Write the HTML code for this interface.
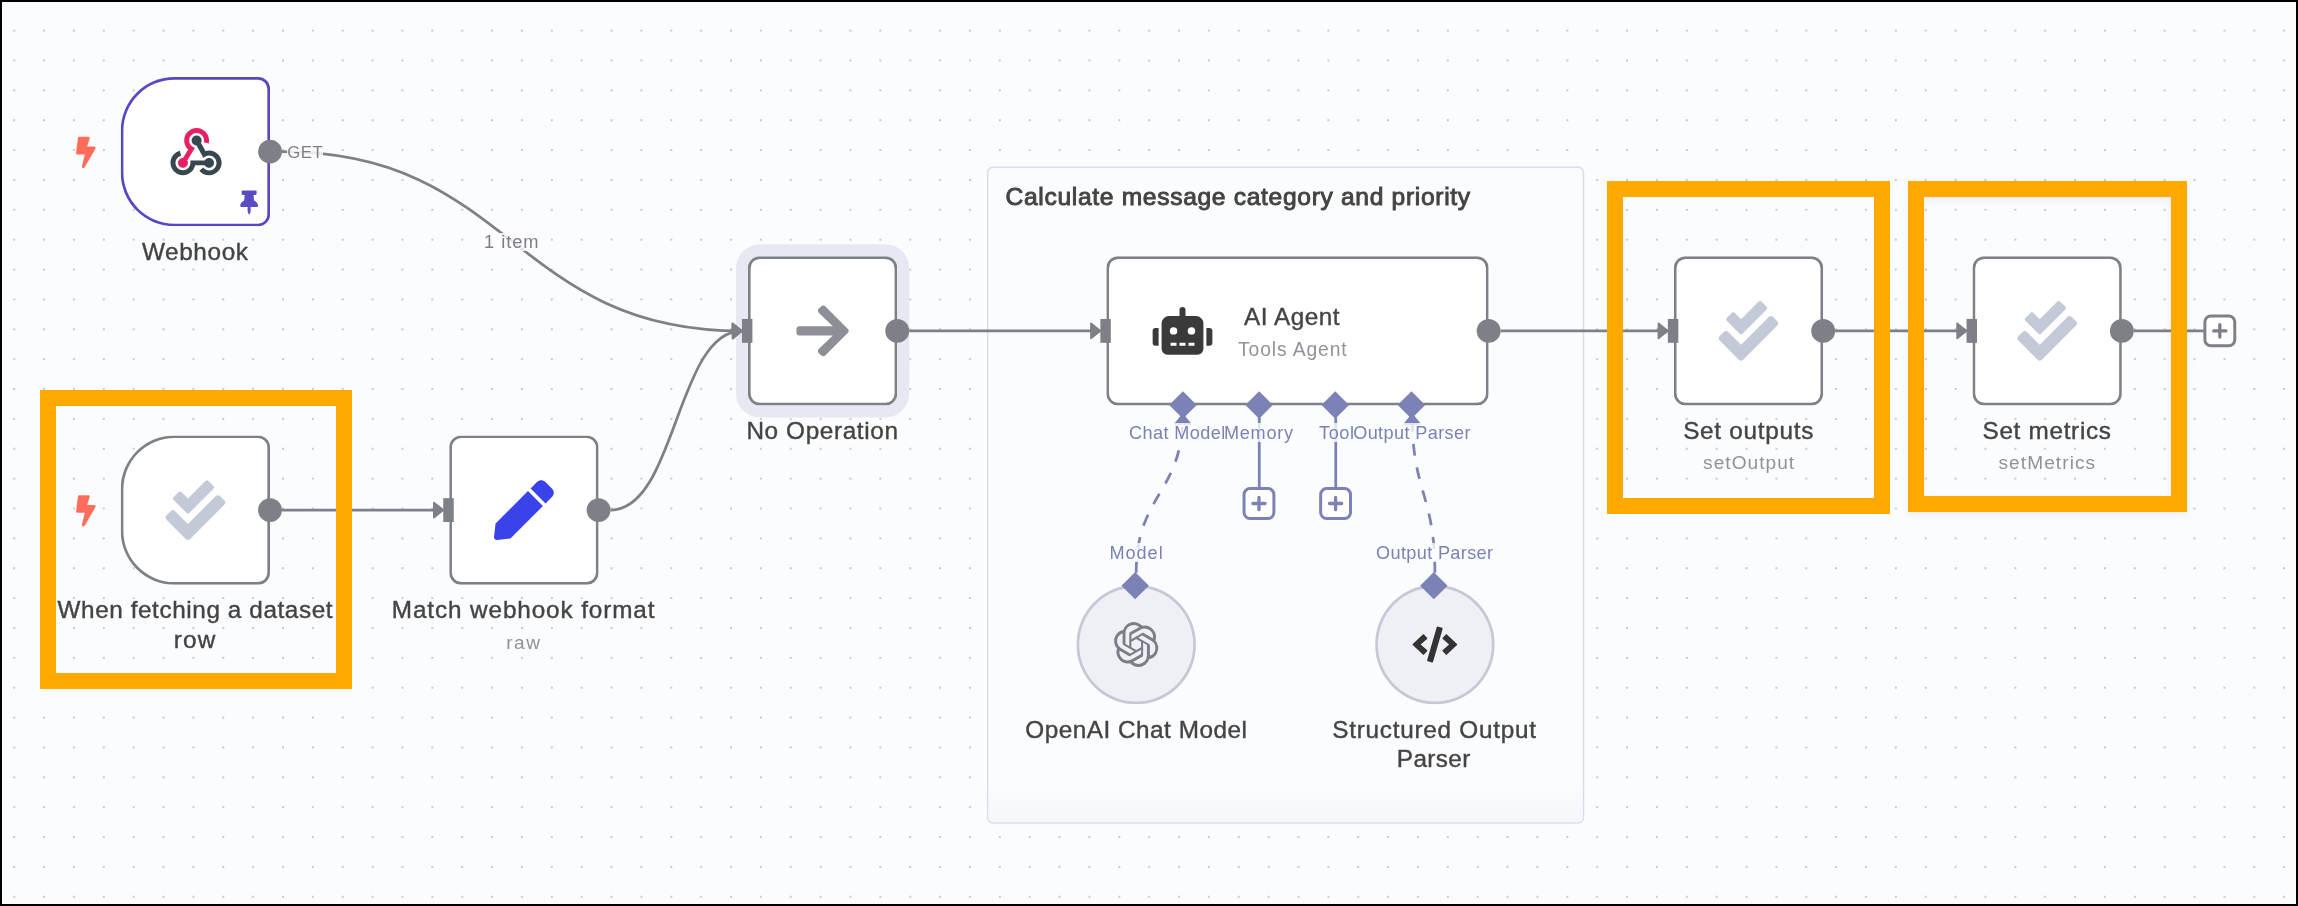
<!DOCTYPE html>
<html lang="en">
<head>
<meta charset="utf-8">
<title>Evaluation workflow canvas</title>
<style>
  html, body { margin: 0; padding: 0; }
  body {
    width: 2298px; height: 906px; overflow: hidden; position: relative;
    background: #fbfcfe;
    font-family: "Liberation Sans", sans-serif;
  }
  #frame {
    position: absolute; left: 0; top: 0; width: 2298px; height: 906px;
    box-sizing: border-box; border: 2px solid #000; z-index: 50; pointer-events: none;
  }
  #dots { position: absolute; left: 0; top: 0; width: 2298px; height: 906px; }
  /* ---------- canvas viewport (n8n coordinates, zoomed) ---------- */
  #vp {
    position: absolute; left: 0; top: 0; width: 0; height: 0;
    transform-origin: 0 0;
    transform: translate(120.7px, 77px) scale(1.4934);
  }
  #vp > * { position: absolute; box-sizing: border-box; }
  .sticky {
    left: 580px; top: 60px; width: 400px; height: 440px;
    background: #fbfcfe; border: 1px solid #d9dde9; border-radius: 4px;
    overflow: hidden;
  }
  .sticky::after {
    content: ""; position: absolute; left: 0; right: 0; bottom: 0; height: 24px;
    background: linear-gradient(rgba(246,247,251,0), rgba(245,246,250,1));
  }
  .node {
    width: 100px; height: 100px; background: #fff;
    border: 0; box-shadow: inset 0 0 0 1.8px #7d8086; border-radius: 8px;
  }
  .node.trigger { border-radius: 36px 8px 8px 36px; }
  .node.pinned { box-shadow: inset 0 0 0 1.8px #5648c2; }
  .node.selected { box-shadow: inset 0 0 0 1.8px #7d8086, 0 0 0 8px #e6e9f2; }
  .node.sub {
    width: 80px; height: 80px; border-radius: 50%;
    background: #efeff6; box-shadow: inset 0 0 0 1.8px #c4c8d7;
  }
  .hin { width: 7.4px; height: 15.8px; margin: 0.1px 0 0 0.1px; background: #7d8086; }
  .hout { width: 16px; height: 16px; border-radius: 50%; background: #7d8086; }
  .dia { width: 12.6px; height: 12.6px; margin: -0.3px 0 0 -0.65px; background: #7c81b6; transform: rotate(45deg); }
  svg { overflow: visible; }
  #edges { left: 0; top: 0; width: 1px; height: 1px; }
  .icon { width: 40px; height: 40px; }
  /* ---------- text layer (screen coordinates) ---------- */
  #txt { position: absolute; left: 0; top: 0; width: 0; height: 0; will-change: transform; }
  #txt span {
    position: absolute; white-space: nowrap; line-height: 1;
    color: #444;
  }
  .lb { font-size: 23.7px; -webkit-text-stroke: 0.4px #444; }
  .st { font-size: 18.4px; color: #8f9299 !important; }
  .hl { font-size: 17.6px; color: #7c81b6 !important; background: rgba(251,252,254,.8); padding-top: 1.5px; margin-top: -1.5px; }
  .el { font-size: 17.6px; color: #7d7d87 !important; background: rgba(251,252,254,.85); }
  .ti { -webkit-text-stroke: 0.95px #444; }
  .rq { color: #f0a0a0 !important; background: none !important; }
  /* ---------- annotations ---------- */
  .hi { position: absolute; box-sizing: border-box; border: 16px solid #ffa900; z-index: 40; }
</style>
</head>
<body>
<svg id="dots">
  <defs>
    <pattern id="dotp" x="-0.73" y="15.66" width="29.868" height="29.868" patternUnits="userSpaceOnUse">
      <ellipse cx="14.934" cy="14.934" rx="0.95" ry="0.65" fill="#98989c"/>
    </pattern>
  </defs>
  <rect x="0" y="0" width="2298" height="906" fill="url(#dotp)"/>
</svg>

<div id="vp">
  <div class="sticky"></div>

  <div class="node trigger pinned" style="left:0px;top:0px;"></div>
  <div class="node trigger" style="left:0px;top:240px;"></div>
  <div class="node " style="left:220px;top:240px;"></div>
  <div class="node selected" style="left:420px;top:120px;"></div>
  <div class="node " style="left:660px;top:120px;width:256px;"></div>
  <div class="node " style="left:1040px;top:120px;"></div>
  <div class="node " style="left:1240px;top:120px;"></div>
  <div class="node sub" style="left:640px;top:340px;"></div>
  <div class="node sub" style="left:840px;top:340px;"></div>
  <svg id="edges">
    <g fill="none" stroke="#7d8086" stroke-width="1.85">
      <path d="M108,50 C262,50 262,170 416,170"/>
      <path d="M108,290 L216,290"/>
      <path d="M328,290 C372,290 372,170 416,170"/>
      <path d="M528,170 L656,170"/>
      <path d="M924,170 L1036,170"/>
      <path d="M1148,170 L1236,170"/>
      <path d="M1348,170 L1395,170"/>
    </g>
    <g fill="#7d8086" stroke="#7d8086" stroke-width="1.25" stroke-linejoin="round">
      <path d="M409.75,165 L416,170 L409.75,175 Z"/>
      <path d="M409.75,165 L416,170 L409.75,175 Z" transform="rotate(-2 416 170)"/>
      <path d="M209.75,285 L216,290 L209.75,295 Z"/>
      <path d="M649.75,165 L656,170 L649.75,175 Z"/>
      <path d="M1029.75,165 L1036,170 L1029.75,175 Z"/>
      <path d="M1229.75,165 L1236,170 L1229.75,175 Z"/>
    </g>
    <g fill="none" stroke="#7c81b6" stroke-width="1.85">
      <path d="M680,332 C680,279 711.2,279 711.2,226" stroke-dasharray="8 8"/>
      <path d="M880,332 C880,279 864.8,279 864.8,226" stroke-dasharray="8 8"/>
      <path d="M762.4,226 L762.4,275"/>
      <path d="M813.6,226 L813.6,275"/>
    </g>
    <g fill="#7c81b6" stroke="#7c81b6" stroke-width="1.25" stroke-linejoin="round">
      <path d="M706.2,232.25 L711.2,226 L716.2,232.25 Z"/>
      <path d="M859.8,232.25 L864.8,226 L869.8,232.25 Z"/>
    </g>
    <!-- plus buttons -->
    <g transform="translate(750.2,273.6)">
      <rect x="2" y="2" width="20" height="20" rx="4" fill="#fff" stroke="#7c81b6" stroke-width="2"/>
      <path d="M7.9,12 H16.1 M12,7.9 V16.1" stroke="#7c81b6" stroke-width="2.2" stroke-linecap="round" fill="none"/>
    </g>
    <g transform="translate(801.5,273.6)">
      <rect x="2" y="2" width="20" height="20" rx="4" fill="#fff" stroke="#7c81b6" stroke-width="2"/>
      <path d="M7.9,12 H16.1 M12,7.9 V16.1" stroke="#7c81b6" stroke-width="2.2" stroke-linecap="round" fill="none"/>
    </g>
    <g transform="translate(1393.6,158)">
      <rect x="2" y="2" width="20" height="20" rx="4" fill="#fff" stroke="#7d8086" stroke-width="2"/>
      <path d="M7.9,12 H16.1 M12,7.9 V16.1" stroke="#7d8086" stroke-width="2.2" stroke-linecap="round" fill="none"/>
    </g>
  </svg>
  <div class="hout" style="left:92px;top:42px"></div>
  <div class="hout" style="left:92px;top:282px"></div>
  <div class="hin" style="left:216px;top:282px"></div>
  <div class="hout" style="left:312px;top:282px"></div>
  <div class="hin" style="left:416px;top:162px"></div>
  <div class="hout" style="left:512px;top:162px"></div>
  <div class="hin" style="left:656px;top:162px"></div>
  <div class="hout" style="left:908px;top:162px"></div>
  <div class="hin" style="left:1036px;top:162px"></div>
  <div class="hout" style="left:1132px;top:162px"></div>
  <div class="hin" style="left:1236px;top:162px"></div>
  <div class="hout" style="left:1332px;top:162px"></div>
  <div class="dia" style="left:705.2px;top:213.7px"></div>
  <div class="dia" style="left:756.4px;top:213.7px"></div>
  <div class="dia" style="left:807.6px;top:213.7px"></div>
  <div class="dia" style="left:858.8px;top:213.7px"></div>
  <div class="dia" style="left:674px;top:334px"></div>
  <div class="dia" style="left:874px;top:334px"></div>
  <svg style="left:30px;top:30px;width:40px;height:40px" viewBox="0 0 48 48"><path fill="#37474f" d="M35,37c-2.200,0-4-1.800-4-4s1.800-4,4-4s4,1.800,4,4S37.200,37,35,37z"/><path fill="#37474f" d="M35,43c-3,0-5.900-1.400-7.800-3.700l3.100-2.500c1.100,1.400,2.900,2.300,4.700,2.300c3.300,0,6-2.700,6-6s-2.700-6-6-6c-1,0-2,0.300-2.900,0.700l-1.700,1L23.300,16l3.500-1.900l5.300,9.400c1-0.300,2-0.500,3-0.500c5.500,0,10,4.500,10,10S40.500,43,35,43z"/><path fill="#37474f" d="M14,43C8.500,43,4,38.500,4,33c0-4.600,3.100-8.500,7.500-9.700l1,3.900C9.900,27.900,8,30.300,8,33c0,3.300,2.700,6,6,6s6-2.700,6-6v-2h15v4H23.800C22.900,39.600,18.800,43,14,43z"/><path fill="#e91e63" d="M14,37c-2.200,0-4-1.800-4-4s1.800-4,4-4s4,1.800,4,4S16.200,37,14,37z"/><path fill="#37474f" d="M25,19c-2.200,0-4-1.800-4-4s1.800-4,4-4s4,1.800,4,4S27.200,19,25,19z"/><path fill="#e91e63" d="M15.700,34L12.300,32l5.900-9.700c-2-1.900-3.200-4.500-3.200-7.300c0-5.500,4.500-10,10-10c5.500,0,10,4.500,10,10c0,0.900-0.100,1.700-0.300,2.500l-3.900-1c0.100-0.500,0.200-1,0.200-1.500c0-3.300-2.700-6-6-6s-6,2.700-6,6c0,2.100,1.100,4,2.900,5.100l1.700,1L15.700,34z"/></svg>
  <svg style="left:79.7px;top:76.3px;width:12px;height:16px" viewBox="0 0 384 512"><path fill="#5a4cc2" d="M298.028 214.267L285.793 96H328c13.255 0 24-10.745 24-24V24c0-13.255-10.745-24-24-24H56C42.745 0 32 10.745 32 24v48c0 13.255 10.745 24 24 24h42.207L85.972 214.267C37.465 236.82 0 277.261 0 328c0 13.255 10.745 24 24 24h136v104.007c0 1.242.289 2.467.845 3.578l24 48c2.941 5.882 11.364 5.893 14.311 0l24-48a8.008 8.008 0 0 0 .845-3.578V352h136c13.255 0 24-10.745 24-24-.001-51.183-37.983-91.420-85.973-113.733z"/></svg>
  <svg style="left:-29.7px;top:39.5px;width:13.3px;height:21px" viewBox="0 0 320 512"><path fill="#ff6d5a" d="M296 160H180.6l42.6-129.8C227.2 15 215.7 0 200 0H56C44 0 33.8 8.9 32.2 20.8l-32 240C-1.7 275.2 9.500 288 24 288h118.700L96.600 482.500c-3.600 15.200 8 29.500 23.300 29.500 8.400 0 16.400-4.400 20.800-12l176-304c9.300-15.900-2.200-36-20.700-36z"/></svg>
  <svg style="left:-29.7px;top:279.5px;width:13.3px;height:21px" viewBox="0 0 320 512"><path fill="#ff6d5a" d="M296 160H180.6l42.6-129.8C227.2 15 215.7 0 200 0H56C44 0 33.8 8.9 32.2 20.8l-32 240C-1.7 275.2 9.500 288 24 288h118.700L96.600 482.500c-3.600 15.200 8 29.500 23.300 29.500 8.400 0 16.400-4.400 20.800-12l176-304c9.300-15.900-2.200-36-20.700-36z"/></svg>
  <svg style="left:30px;top:270px;width:40px;height:40px" viewBox="0 0 512 512"><path fill="#c4c9d7" d="M505 174.8l-39.6-39.6c-9.4-9.4-24.6-9.4-33.9 0L192 374.7 80.6 263.2c-9.4-9.4-24.6-9.4-33.9 0L7 302.9c-9.4 9.4-9.4 24.6 0 34L175 505c9.4 9.4 24.6 9.4 33.9 0l296-296.2c9.4-9.5 9.4-24.7.1-34zm-324.3 106c6.2 6.3 16.4 6.3 22.6 0l208-208.2c6.2-6.3 6.2-16.4 0-22.6L366.1 4.700c-6.2-6.3-16.4-6.3-22.6 0L192 156.200l-55.400-55.500c-6.200-6.300-16.400-6.300-22.600 0L68.700 146c-6.200 6.300-6.200 16.400 0 22.600l112 112.200z"/></svg>
  <svg style="left:250px;top:270px;width:40px;height:40px" viewBox="0 0 512 512"><path fill="#3a42e9" d="M290.74 93.24l128.02 128.02-277.99 277.99-114.14 12.6C11.35 513.54-1.56 500.62.14 485.34l12.7-114.22 277.9-277.88zm207.2-19.06l-60.11-60.11c-18.750-18.750-49.160-18.750-67.910 0l-56.550 56.550 128.020 128.020 56.550-56.550c18.750-18.760 18.750-49.160 0-67.910z"/></svg>
  <svg style="left:1070px;top:150px;width:40px;height:40px" viewBox="0 0 512 512"><path fill="#c4c9d7" d="M505 174.8l-39.6-39.6c-9.4-9.4-24.6-9.4-33.9 0L192 374.7 80.6 263.2c-9.4-9.4-24.6-9.4-33.9 0L7 302.9c-9.4 9.4-9.4 24.6 0 34L175 505c9.4 9.4 24.6 9.4 33.9 0l296-296.2c9.4-9.5 9.4-24.7.1-34zm-324.3 106c6.2 6.3 16.4 6.3 22.6 0l208-208.2c6.2-6.3 6.2-16.4 0-22.6L366.1 4.700c-6.2-6.3-16.4-6.3-22.6 0L192 156.200l-55.400-55.500c-6.200-6.300-16.400-6.300-22.600 0L68.700 146c-6.200 6.300-6.200 16.400 0 22.600l112 112.200z"/></svg>
  <svg style="left:1270px;top:150px;width:40px;height:40px" viewBox="0 0 512 512"><path fill="#c4c9d7" d="M505 174.8l-39.6-39.6c-9.4-9.4-24.6-9.4-33.9 0L192 374.7 80.6 263.2c-9.4-9.4-24.6-9.4-33.9 0L7 302.9c-9.4 9.4-9.4 24.6 0 34L175 505c9.4 9.4 24.6 9.4 33.9 0l296-296.2c9.4-9.5 9.4-24.7.1-34zm-324.3 106c6.2 6.3 16.4 6.3 22.6 0l208-208.2c6.2-6.3 6.2-16.4 0-22.6L366.1 4.700c-6.2-6.3-16.4-6.3-22.6 0L192 156.200l-55.400-55.500c-6.200-6.300-16.400-6.300-22.600 0L68.700 146c-6.200 6.300-6.200 16.400 0 22.600l112 112.200z"/></svg>
  <svg style="left:691.3px;top:154px;width:40px;height:32px" viewBox="0 0 640 512"><path fill="#3a3a3a" d="M32,224H64V416H32A31.96166,31.96166,0,0,1,0,384V256A31.96166,31.96166,0,0,1,32,224Zm512-48V448a64.06328,64.06328,0,0,1-64,64H160a64.06328,64.06328,0,0,1-64-64V176a79.974,79.974,0,0,1,80-80H288V32a32,32,0,0,1,64,0V96H464A79.974,79.974,0,0,1,544,176ZM264,256a40,40,0,1,0-40,40A39.997,39.997,0,0,0,264,256Zm-8,128H192v32h64Zm96,0H288v32h64ZM456,256a40,40,0,1,0-40,40A39.997,39.997,0,0,0,456,256Zm-8,128H384v32h64ZM640,256V384a31.96166,31.96166,0,0,1-32,32H576V224h32A31.96166,31.96166,0,0,1,640,256Z"/></svg>
  <svg style="left:865px;top:368px;width:30px;height:24px" viewBox="0 0 640 512"><path fill="#333" d="M278.9 511.5l-61-17.7c-6.4-1.8-10-8.5-8.200-14.900L346.200 8.700c1.800-6.400 8.500-10 14.900-8.200l61 17.700c6.400 1.800 10 8.500 8.200 14.900L293.800 503.300c-1.900 6.400-8.500 10.100-14.900 8.200zm-114-112.200l43.500-46.400c4.600-4.900 4.300-12.700-.800-17.200L117 256l90.600-79.700c5.100-4.500 5.500-12.300.8-17.200l-43.500-46.400c-4.500-4.800-12.100-5.100-17-.5L3.800 247.200c-5.100 4.700-5.100 12.800 0 17.500l144.100 135.100c4.900 4.600 12.500 4.400 17-.5zm327.200.6l144.100-135.100c5.100-4.700 5.100-12.800 0-17.500L492.100 112.100c-4.800-4.500-12.400-4.300-17 .5L431.600 159c-4.600 4.900-4.300 12.700.8 17.200L523 256l-90.600 79.700c-5.100 4.500-5.500 12.300-.8 17.200l43.500 46.400c4.500 4.900 12.100 5.100 17 .6z"/></svg>
  <svg style="left:450px;top:150px;width:40px;height:40px" viewBox="0 0 448 512"><path fill="#8d8f96" d="M190.5 66.9l22.200-22.200c9.400-9.400 24.600-9.400 33.900 0L441 239c9.400 9.400 9.400 24.600 0 33.900L246.600 467.300c-9.400 9.400-24.600 9.400-33.900 0l-22.200-22.200c-9.500-9.500-9.300-25 .4-34.300L311.400 296H24c-13.300 0-24-10.700-24-24v-32c0-13.300 10.700-24 24-24h287.400L190.900 101.200c-9.800-9.300-10-24.800-.4-34.300z"/></svg>
  <svg style="left:665px;top:365px;width:30px;height:30px" viewBox="0 0 24 24"><path fill="#7d7d87" d="M22.282 9.821a5.985 5.985 0 0 0-.516-4.910 6.046 6.046 0 0 0-6.510-2.900A6.065 6.065 0 0 0 4.981 4.180a5.985 5.985 0 0 0-3.998 2.900 6.046 6.046 0 0 0 .743 7.097 5.980 5.980 0 0 0 .510 4.911 6.051 6.051 0 0 0 6.515 2.900A5.985 5.985 0 0 0 13.260 24a6.056 6.056 0 0 0 5.772-4.206 5.990 5.990 0 0 0 3.997-2.900 6.056 6.056 0 0 0-.747-7.073zM13.260 22.430a4.476 4.476 0 0 1-2.876-1.040l.141-.081 4.779-2.758a.795.795 0 0 0 .392-.681v-6.737l2.020 1.168a.071.071 0 0 1 .038.052v5.583a4.504 4.504 0 0 1-4.494 4.494zM3.600 18.304a4.470 4.470 0 0 1-.535-3.014l.142.085 4.783 2.759a.771.771 0 0 0 .780 0l5.843-3.369v2.332a.080.080 0 0 1-.033.062L9.740 19.950a4.500 4.500 0 0 1-6.140-1.646zM2.340 7.896a4.485 4.485 0 0 1 2.366-1.973V11.600a.766.766 0 0 0 .388.676l5.815 3.355-2.020 1.168a.076.076 0 0 1-.071 0l-4.830-2.786A4.504 4.504 0 0 1 2.340 7.872zm16.597 3.855l-5.833-3.387L15.119 7.200a.076.076 0 0 1 .071 0l4.830 2.791a4.494 4.494 0 0 1-.676 8.105v-5.678a.790.790 0 0 0-.407-.667zm2.010-3.023l-.141-.085-4.774-2.782a.776.776 0 0 0-.785 0L9.409 9.230V6.897a.066.066 0 0 1 .028-.061l4.830-2.787a4.500 4.500 0 0 1 6.680 4.660zm-12.640 4.135l-2.020-1.164a.080.080 0 0 1-.038-.057V6.075a4.500 4.500 0 0 1 7.375-3.453l-.142.080L8.704 5.460a.795.795 0 0 0-.393.681zm1.097-2.365l2.602-1.500 2.607 1.500v2.999l-2.597 1.500-2.607-1.500z"/></svg>
</div>

<div id="txt">
  <span class="lb" style="left:141.9px;top:240px;font-size:24.3px;letter-spacing:0.65px;">Webhook</span>
  <span class="lb" style="left:57.5px;top:598px;font-size:24.3px;letter-spacing:0.59px;">When fetching a dataset</span>
  <span class="lb" style="left:173.7px;top:628px;font-size:24.3px;letter-spacing:1.25px;">row</span>
  <span class="lb" style="left:391.8px;top:598px;font-size:24.3px;letter-spacing:0.89px;">Match webhook format</span>
  <span class="st" style="left:506.2px;top:633px;font-size:19.1px;letter-spacing:1.55px;">raw</span>
  <span class="lb" style="left:746.4px;top:419px;font-size:24.3px;letter-spacing:0.64px;">No Operation</span>
  <span class="ti" style="left:1005.5px;top:185px;font-size:24.6px;letter-spacing:0.68px;">Calculate message category and priority</span>
  <span class="lb" style="left:1244.0px;top:305px;font-size:24.3px;letter-spacing:0.53px;">AI Agent</span>
  <span class="st" style="left:1238.0px;top:340px;font-size:19.3px;letter-spacing:0.90px;">Tools Agent</span>
  <span class="hl" style="left:1129.0px;top:424px;font-size:18.1px;letter-spacing:0.41px;">Chat Model</span>
  <span class="hl rq" style="left:1229.0px;top:424px;font-size:18.1px;">*</span>
  <span class="hl" style="left:1224.0px;top:424px;font-size:18.1px;letter-spacing:0.74px;">Memory</span>
  <span class="hl" style="left:1319.0px;top:424px;font-size:18.1px;letter-spacing:0.60px;">Tool</span>
  <span class="hl" style="left:1353.2px;top:424px;font-size:18.1px;letter-spacing:0.39px;">Output Parser</span>
  <span class="hl" style="left:1109.4px;top:544px;font-size:18.1px;letter-spacing:1.00px;">Model</span>
  <span class="hl" style="left:1376.0px;top:544px;font-size:18.1px;letter-spacing:0.37px;">Output Parser</span>
  <span class="lb" style="left:1025.3px;top:718px;font-size:24.3px;letter-spacing:0.51px;">OpenAI Chat Model</span>
  <span class="lb" style="left:1332.2px;top:718px;font-size:24.3px;letter-spacing:0.75px;">Structured Output</span>
  <span class="lb" style="left:1396.8px;top:747px;font-size:24.3px;letter-spacing:0.40px;">Parser</span>
  <span class="lb" style="left:1683.2px;top:419px;font-size:24.3px;letter-spacing:0.72px;">Set outputs</span>
  <span class="st" style="left:1703.1px;top:453px;font-size:19.1px;letter-spacing:1.03px;">setOutput</span>
  <span class="lb" style="left:1982.5px;top:419px;font-size:24.3px;letter-spacing:0.70px;">Set metrics</span>
  <span class="st" style="left:1998.5px;top:453px;font-size:19.1px;letter-spacing:1.07px;">setMetrics</span>
  <span class="el" style="left:287.3px;top:145px;font-size:16.8px;letter-spacing:0.50px;">GET</span>
  <span class="el" style="left:484.1px;top:233px;font-size:18.3px;letter-spacing:0.92px;">1 item</span>
</div>

<div class="hi" style="left:40px;top:390px;width:312px;height:299px"></div>
<div class="hi" style="left:1607px;top:181px;width:283px;height:333px"></div>
<div class="hi" style="left:1908px;top:181px;width:279px;height:331px;box-shadow:0 3px 7px rgba(120,130,170,.12), inset 0 3px 7px rgba(120,130,170,.12)"></div>

<div id="frame"></div>
</body>
</html>
